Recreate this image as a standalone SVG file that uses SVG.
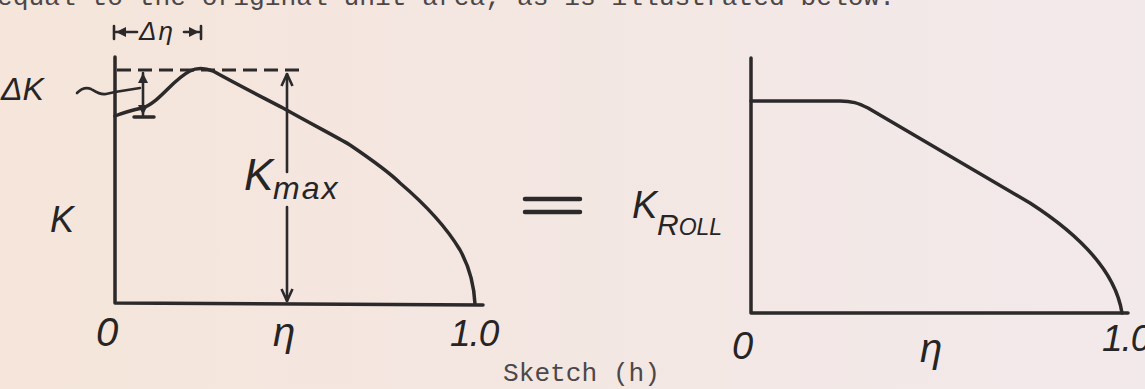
<svg xmlns="http://www.w3.org/2000/svg" width="1145" height="389" viewBox="0 0 1145 389">
<defs>
<linearGradient id="paper" x1="0" y1="0" x2="1" y2="0">
<stop offset="0" stop-color="#f5e5da"/>
<stop offset="1" stop-color="#f2e9eb"/>
</linearGradient>
<marker id="vhead" viewBox="0 0 14 14" refX="13" refY="7" markerWidth="14" markerHeight="14" markerUnits="userSpaceOnUse" orient="auto-start-reverse">
<path d="M1,1.5 L13,7 L1,12.5" fill="none" stroke="#2b2929" stroke-width="2.6" stroke-linejoin="round"/>
</marker>
<marker id="tri" viewBox="0 0 10 10" refX="10" refY="5" markerWidth="10" markerHeight="10" markerUnits="userSpaceOnUse" orient="auto-start-reverse">
<path d="M0,0 L10,5 L0,10 Z" fill="#2b2929"/>
</marker>
</defs>
<style>
.ln{fill:none;stroke:#2b2929;stroke-width:3.5;stroke-linecap:round;stroke-linejoin:round}
.th{fill:none;stroke:#2b2929;stroke-width:2.6;stroke-linecap:round}
.dash{fill:none;stroke:#2b2929;stroke-width:3;stroke-dasharray:14 7}
.lbl{font-family:"Liberation Sans",Arial,sans-serif;font-style:italic;fill:#262424}
.mono{font-family:"Liberation Mono","Courier New",monospace;fill:#4d4748}
</style>
<rect width="1145" height="389" fill="url(#paper)"/>
<text class="mono" x="-3" y="5" font-size="26" textLength="898" lengthAdjust="spacingAndGlyphs">equal to the original unit area, as is illustrated below.</text>

<g id="left-plot">
<path class="ln" d="M115,57 V303 L483,305"/>
<path class="ln" d="M115,116 C125,112 133,110 142,108 C158,104 172,80 190,71 C196,68 205,68 213,71 C240,86 262,97 283,108 C315,126 335,136 350,145 C375,162 390,173 400,183 C420,200 445,225 460,250 C470,268 474,285 475,304"/>
<path class="dash" d="M117,70 H305"/>
</g>

<g id="connectors">
<path class="th" d="M143,73 V115" marker-start="url(#tri)" marker-end="url(#tri)"/>
<path class="ln" d="M134,117 H154"/>
<path class="th" d="M77,93 C82,88 86,87 91,89 C96,92 100,95 106,94 L115,92 L140,88"/>
<path class="th" d="M287,74 V172" marker-start="url(#vhead)"/>
<path class="th" d="M287,207 V301" marker-end="url(#vhead)"/>
<path class="th" d="M114,26 V39 M201,26 V39"/>
<path class="th" d="M116,32 H137" marker-start="url(#tri)"/>
<path class="th" d="M184,32 H199" marker-end="url(#tri)"/>
<path class="ln" d="M525,199 H580 M525,212 H580" style="stroke-width:4.5"/>
</g>

<g id="left-labels">
<text class="lbl" x="139" y="40" font-size="26" letter-spacing="2">Δη</text>
<text class="lbl" x="1" y="100" font-size="32">ΔK</text>
<text class="lbl" x="50" y="232" font-size="36">K</text>
<text class="lbl" x="244" y="190" font-size="44">K</text>
<text class="lbl" x="273" y="199" font-size="32" letter-spacing="2">max</text>
<text class="lbl" x="96" y="346" font-size="40">0</text>
<text class="lbl" x="273" y="346" font-size="40">η</text>
<text class="lbl" x="450" y="346" font-size="37" letter-spacing="-1">1.0</text>
</g>

<g id="right-plot">
<path class="ln" d="M751,58 V313 H1128"/>
<path class="ln" d="M751,101 H840 C852,101 858,103 868,108 L1030,203 C1075,232 1115,268 1122,313"/>
</g>

<g id="right-labels">
<text class="lbl" x="632" y="218" font-size="38">K</text>
<text class="lbl" x="657" y="235"><tspan font-size="30">R</tspan><tspan font-size="23">OLL</tspan></text>
<text class="lbl" x="732" y="359" font-size="38">0</text>
<text class="lbl" x="920" y="362" font-size="40">η</text>
<text class="lbl" x="1102" y="351" font-size="37" letter-spacing="-1">1.0</text>
</g>

<text class="mono" x="503" y="381" font-size="25" textLength="157" lengthAdjust="spacingAndGlyphs">Sketch (h)</text>
</svg>
